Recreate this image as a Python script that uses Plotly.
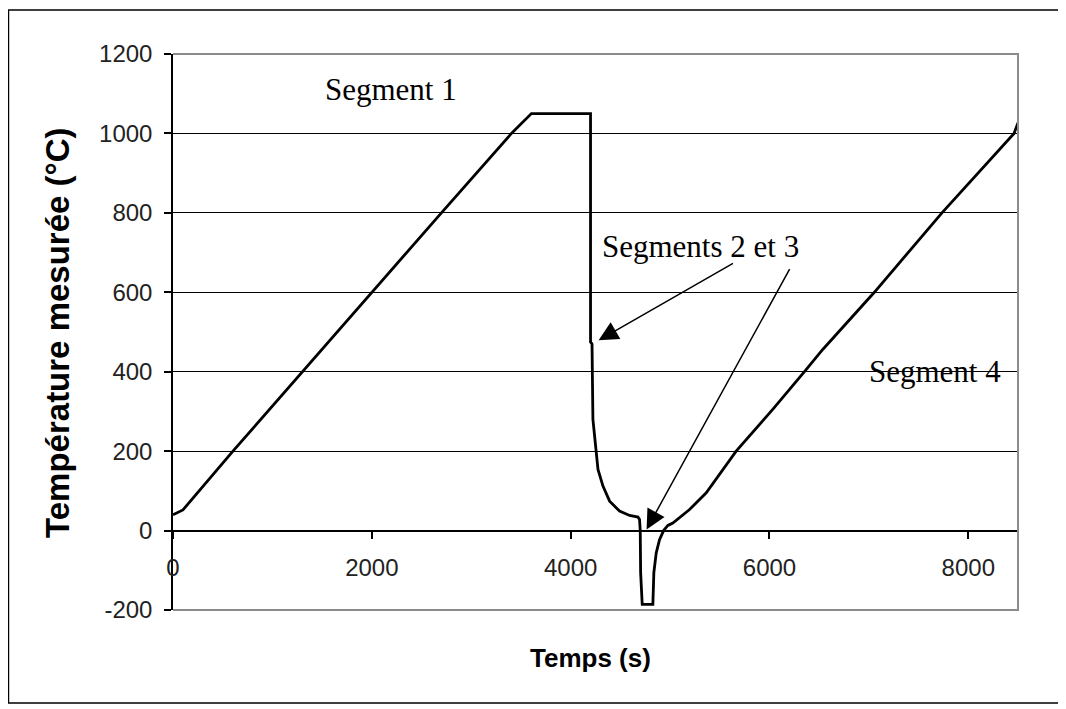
import plotly.graph_objects as go

temps_s = [0, 100, 603, 1300, 2000, 2700, 3404, 3605, 4200, 4200, 4215, 4224,
           4275, 4325, 4392, 4492, 4593, 4677, 4693, 4700, 4704, 4720, 4827,
           4837, 4861, 4894, 4935, 4978, 4995, 5028, 5196, 5364, 5665, 6033,
           6352, 6536, 7055, 7735, 8460, 8500]
temperature_c = [40, 52, 200, 400, 600, 800, 1000, 1050, 1050, 475, 470, 280,
                 154, 112, 74, 49, 38, 34, 28, 0, -106, -186, -186,
                 -106, -56, -23, 0, 13, 15, 19, 53, 95, 200, 305,
                 400, 456, 600, 800, 1000, 1027]

x_ticks = [0, 2000, 4000, 6000, 8000]
y_ticks = [-200, 0, 200, 400, 600, 800, 1000, 1200]

labels = ["Segment 1", "Segments 2 et 3", "Segment 4"]
label_x = [2191, 5307, 7668]
label_y = [1111, 715, 400]

# arrows: (tail x, tail y) -> (head x, head y)
arrow_tail_x = [5648, 6211]
arrow_tail_y = [675, 662]
arrow_head_x = [4281, 4764]
arrow_head_y = [479, 3]

fig = go.Figure()
fig.add_trace(go.Scatter(x=temps_s, y=temperature_c, mode="lines",
                         line=dict(color="black", width=2.8),
                         showlegend=False, hoverinfo="skip"))

annotations = []
for t, x, y in zip(labels, label_x, label_y):
    annotations.append(dict(x=x, y=y, xref="x", yref="y", text=t, showarrow=False,
                            font=dict(family="Liberation Serif", size=31, color="black"),
                            xanchor="center", yanchor="middle"))
for tx, ty, hx, hy in zip(arrow_tail_x, arrow_tail_y, arrow_head_x, arrow_head_y):
    annotations.append(dict(x=hx, y=hy, xref="x", yref="y", ax=tx, ay=ty,
                            axref="x", ayref="y", text="", showarrow=True,
                            arrowhead=2, arrowsize=2.6, arrowwidth=1.5,
                            arrowcolor="black", standoff=0))
# axis titles
annotations.append(dict(x=0.4935, y=-0.0863, xref="paper", yref="paper",
                        text="<b>Temps (s)</b>", showarrow=False,
                        font=dict(family="Liberation Sans", size=26, color="black"),
                        xanchor="center", yanchor="middle"))
annotations.append(dict(x=-0.1373, y=0.5, xref="paper", yref="paper",
                        text="<b>Température mesurée (°C)</b>", showarrow=False,
                        textangle=-90,
                        font=dict(family="Liberation Sans", size=33, color="black"),
                        xanchor="center", yanchor="middle"))

fig.update_layout(
    width=1058, height=701,
    margin=dict(l=165, r=48, t=46, b=99),
    paper_bgcolor="white", plot_bgcolor="white",
    showlegend=False,
    annotations=annotations,
    xaxis=dict(range=[0, 8500], tickvals=x_ticks, ticktext=[str(v) for v in x_ticks],
               showgrid=False, zeroline=False,
               anchor="free", position=1/7,
               showline=True, linecolor="black", linewidth=1.5,
               ticks="outside", ticklen=8, tickcolor="black", tickwidth=1.5,
               ticklabelstandoff=8,
               tickfont=dict(family="Liberation Sans", size=24, color="#222")),
    yaxis=dict(range=[-200, 1200], tickvals=y_ticks, ticktext=[str(v) for v in y_ticks],
               showgrid=True, gridcolor="black", gridwidth=1.2,
               zeroline=False,
               showline=True, linecolor="black", linewidth=1.5,
               ticks="outside", ticklen=7, tickcolor="black", tickwidth=1.5,
               ticklabelstandoff=7,
               tickfont=dict(family="Liberation Sans", size=24, color="#222")),
    shapes=[
        # gray plot-area frame (top, right, bottom)
        dict(type="path", xref="paper", yref="paper",
             path="M 0,1 L 1,1 L 1,0 L 0,0", line=dict(color="#8c8c8c", width=2),
             layer="above"),
        # outer black border of the figure
        dict(type="rect", xref="paper", yref="paper",
             x0=-0.1947, x1=1.0497, y0=-0.1673, y1=1.0791,
             line=dict(color="black", width=1.5), layer="above"),
    ],
)

fig.write_html("out.html")
